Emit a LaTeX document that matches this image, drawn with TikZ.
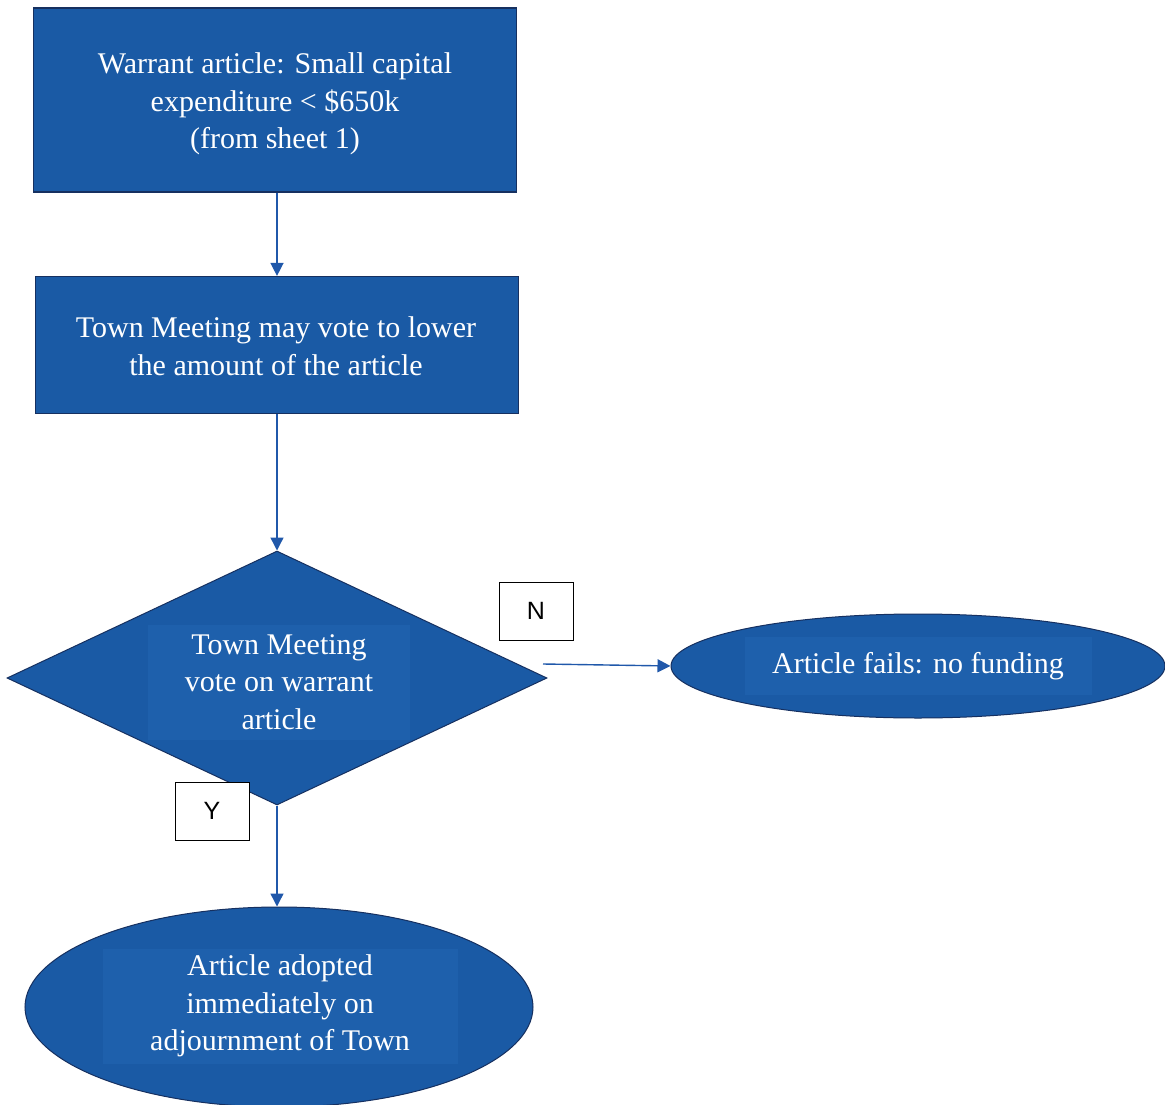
\documentclass[tikz,border=0pt]{standalone}
\usepackage{fontspec}
\setmainfont{Liberation Serif}
\newfontfamily\labelfont{Liberation Sans}
\usetikzlibrary{shapes.geometric,arrows.meta}

\definecolor{flowfill}{RGB}{26,90,165}
\definecolor{flowpanel}{RGB}{30,96,172}
\definecolor{flowedge}{RGB}{22,48,96}
\definecolor{flowline}{RGB}{32,88,170}

\tikzset{
  stepbox/.style={draw=flowedge, line width=1.2pt, fill=flowfill, inner sep=0pt},
  decisionbox/.style={diamond, draw=flowedge, line width=1pt, fill=flowfill, inner sep=0pt,
    minimum width=540pt, minimum height=254pt, aspect=2.13},
  endbox/.style={ellipse, draw=flowedge, line width=1pt, fill=flowfill, inner sep=0pt},
  caption/.style={text=white, align=center, font=\fontsize{30}{37.5}\selectfont},
  panel/.style={caption, fill=flowpanel, inner sep=0pt},
  answer/.style={draw=black, line width=0.8pt, fill=white, inner sep=0pt,
    minimum width=74pt, minimum height=58pt, font=\labelfont\fontsize{25}{28}\selectfont},
  flow/.style={draw=flowline, line width=1.4pt, -{Triangle[length=13pt,width=13pt]}}
}

\begin{document}
\begin{tikzpicture}[x=1pt, y=-1pt]
  \useasboundingbox (0,0) rectangle (1165,1105);
  \fill[white] (0,0) rectangle (1165,1105);

  % process boxes
  \node[stepbox, minimum width=483pt, minimum height=184pt] (warrant) at (275,100) {};
  \node[caption] (warranttext) at (275,104)
    {Warrant article: Small capital\\expenditure < \$650k\\(from sheet 1)};

  \node[stepbox, minimum width=483pt, minimum height=137pt] (lower) at (277,345) {};
  \node[caption] (lowertext) at (276,346)
    {Town Meeting may vote to lower\\the amount of the article};

  % decision
  \node[decisionbox] (vote) at (277,678) {};
  \node[panel, minimum width=262pt, minimum height=115pt] (votetext) at (279,682)
    {Town Meeting\\vote on warrant\\article};

  % outcomes
  \node[endbox, minimum width=494pt, minimum height=104pt] (fail) at (918,666) {};
  \node[panel, minimum width=347pt, minimum height=58pt] (failtext) at (918,666)
    {Article fails: no funding};

  \node[endbox, minimum width=508pt, minimum height=200pt] (adopt) at (279,1007) {};
  \node[panel, minimum width=355pt, minimum height=115pt] (adopttext) at (280,1006)
    {Article adopted\\immediately on\\adjournment of Town};

  % answer tags
  \node[answer] (no) at (536,611) {N};
  \node[answer] (yes) at (212,811) {Y};

  % connectors
  \coordinate (nstart) at (543,664);
  \draw[flow] (warrant.south -| 277,0) -- (lower.north);
  \draw[flow] (lower.south) -- (vote.north);
  \draw[flow] (nstart) -- (fail.west);
  \draw[flow] (vote.south) -- (vote.south |- adopt.north);
\end{tikzpicture}
\end{document}
